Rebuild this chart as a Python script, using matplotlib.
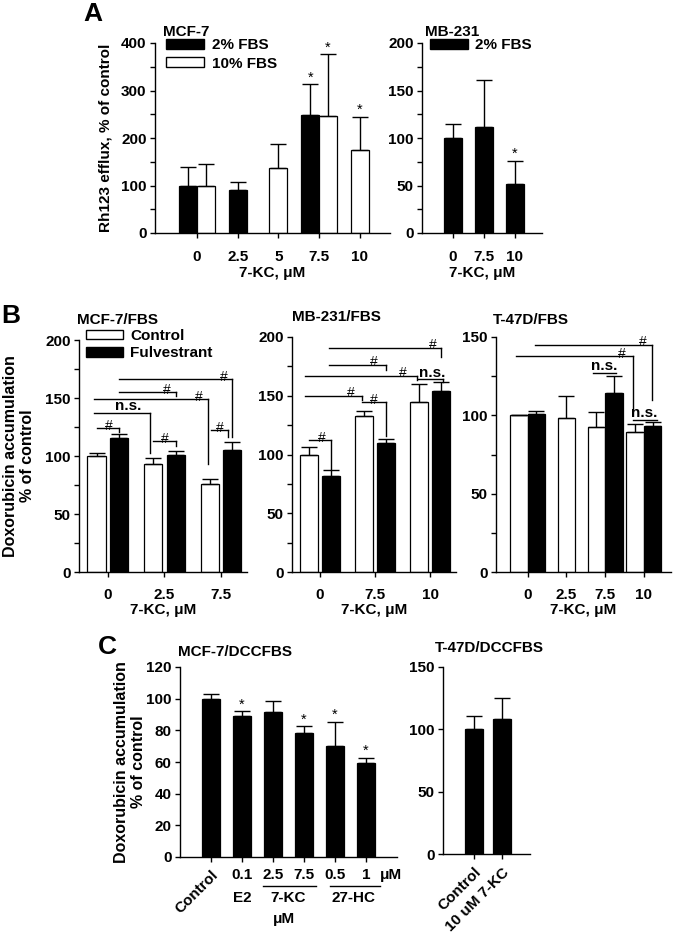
import numpy as np
import matplotlib
matplotlib.use('Agg')
import matplotlib.pyplot as plt
from matplotlib.patches import Patch
from matplotlib.ticker import MultipleLocator

plt.rcParams['font.family'] = ['Liberation Sans', 'DejaVu Sans']
plt.rcParams['font.weight'] = 'bold'
plt.rcParams['axes.labelweight'] = 'bold'

nan = np.nan

# ---------------- Panel A data ----------------
a_mcf_cats = ['0', '2.5', '5', '7.5', '10']
a_mcf_fbs2 = [100, 91, nan, 248, nan]
a_mcf_fbs2_err = [40, 17, nan, 65, nan]
a_mcf_fbs2_sig = [False, False, False, True, False]
a_mcf_fbs10 = [100, nan, 137, 246, 175]
a_mcf_fbs10_err = [45, nan, 50, 130, 70]
a_mcf_fbs10_sig = [False, False, False, True, True]

a_mb_cats = ['0', '7.5', '10']
a_mb_fbs2 = [100, 112, 52]
a_mb_fbs2_err = [15, 49, 24]
a_mb_fbs2_sig = [False, False, True]

# ---------------- Panel B data ----------------
b_mcf_cats = ['0', '2.5', '7.5']
b_mcf_ctrl = [100, 93, 75.5]
b_mcf_ctrl_err = [3, 5, 4.5]
b_mcf_fulv = [115.5, 101, 105]
b_mcf_fulv_err = [3.5, 3, 7]

b_mb_cats = ['0', '7.5', '10']
b_mb_ctrl = [100, 133, 144.5]
b_mb_ctrl_err = [6, 4, 15.5]
b_mb_fulv = [82, 109.5, 154]
b_mb_fulv_err = [5, 3.5, 7.5]

b_t47_cats = ['0', '2.5', '7.5', '10']
b_t47_ctrl = [100, 98.5, 92.3, 89.6]
b_t47_ctrl_err = [0.5, 13.8, 9.7, 5.1]
b_t47_fulv = [100.6, nan, 114.3, 93.2]
b_t47_fulv_err = [1.9, nan, 10.7, 2.3]

# significance brackets: (x_left, x_right, y, y_drop, label, x_text)
b_mcf_brackets = [
    (-0.2, 0.2, 124, 121, '#', 0.02),
    (-0.25, 0.75, 137, 103, 'n.s.', 0.36),
    (0.8, 1.2, 112.6, 109, '#', 1.0),
    (-0.25, 1.77, 149, 93, '#', 1.6),
    (0.2, 1.2, 155, 152, '#', 1.04),
    (0.2, 2.2, 166, 116, '#', 2.05),
    (1.83, 2.13, 122, 116, '#', 1.98),
]
b_mb_brackets = [
    (-0.2, 0.2, 112, 88, '#', 0.03),
    (-0.27, 0.77, 150, 146, '#', 0.55),
    (0.77, 1.2, 144.5, 116, '#', 0.98),
    (-0.27, 1.77, 167, 163, '#', 1.51),
    (0.16, 1.2, 176.5, 172, '#', 0.97),
    (0.16, 2.2, 190.6, 183, '#', 2.04),
    (1.78, 2.24, 164, 162, 'n.s.', 2.03),
]
b_t47_brackets = [
    (0.2, 3.2, 145, 109.6, '#', 2.97),
    (-0.3, 2.72, 137.7, 103, '#', 2.43),
    (1.68, 2.27, 127.2, None, 'n.s.', 1.97),
    (2.71, 3.33, 97.2, None, 'n.s.', 3.02),
]

# ---------------- Panel C data ----------------
c_mcf_cats = ['Control', '0.1', '2.5', '7.5', '0.5', '1']
c_mcf_vals = [100, 88.8, 91.4, 78.3, 70.3, 59.6]
c_mcf_err = [3, 3.2, 6.9, 4.2, 15, 2.9]
c_mcf_sig = [False, True, False, True, True, True]

c_t47_cats = ['Control', '10 uM 7-KC']
c_t47_vals = [100, 108.4]
c_t47_err = [11, 17]

# ---------------- helpers ----------------
W, H = 673, 934
FS = 11
FL = 11.5
fig = plt.figure(figsize=(W / 100, H / 100), dpi=100)


def fx(px):
    return px / W


def fy(py):
    return 1 - py / H


def add_ax(x0, x1, ytop, ybot):
    return fig.add_axes([x0 / W, 1 - ybot / H, (x1 - x0) / W, (ybot - ytop) / H])


def style(ax, xlim, ylim, major, minor, xpad):
    ax.set_xlim(*xlim)
    ax.set_ylim(*ylim)
    for s in ['top', 'right']:
        ax.spines[s].set_visible(False)
    for s in ['left', 'bottom']:
        ax.spines[s].set_linewidth(1.0)
    ax.yaxis.set_major_locator(MultipleLocator(major))
    if minor:
        ax.yaxis.set_minor_locator(MultipleLocator(minor))
    ax.tick_params(axis='y', which='both', direction='out', length=3.5, width=1,
                   labelsize=FS, pad=2.5)
    ax.tick_params(axis='x', direction='out', length=3.5, width=1, labelsize=FS, pad=xpad)


def bars(ax, x, vals, errs, width, face):
    x = np.asarray(x, float)
    v = np.asarray(vals, float)
    e = np.asarray(errs, float)
    m = ~np.isnan(v)
    ax.bar(x[m], v[m], width, color=face, edgecolor='black', linewidth=0.9, zorder=2)
    ax.errorbar(x[m], v[m], yerr=[np.zeros(m.sum()), e[m]], fmt='none', ecolor='black',
                elinewidth=1.0, capsize=5.5, capthick=1.0, zorder=3)


def stars(ax, x, vals, errs, sig):
    for xi, v, e, s in zip(x, vals, errs, sig):
        if s:
            ax.annotate('*', (xi, v + e), xytext=(0, 0), textcoords='offset points',
                        ha='center', va='bottom', fontsize=10.5, fontweight='normal')


def brackets(ax, specs):
    for x1, x2, y, yd, label, xt in specs:
        ax.plot([x1, x2], [y, y], color='black', lw=1.0, clip_on=False, zorder=4)
        if yd is not None:
            ax.plot([x2, x2], [y, yd], color='black', lw=1.0, clip_on=False, zorder=4)
        if label == '#':
            ax.annotate('#', (xt, y), xytext=(0, -1), textcoords='offset points',
                        ha='center', va='baseline', fontsize=10, fontweight='normal')
        else:
            ax.annotate(label, (xt, y), xytext=(0, 2), textcoords='offset points',
                        ha='center', va='baseline', fontsize=FS, fontweight='bold')


# ================= Panel A =================
ax = add_ax(155, 390, 43, 233)
xa = np.arange(len(a_mcf_cats))
w = 0.44
f2 = np.array(a_mcf_fbs2, float)
f10 = np.array(a_mcf_fbs10, float)
both = ~np.isnan(f2) & ~np.isnan(f10)
x2 = np.where(both, xa - w / 2, xa)
x10 = np.where(both, xa + w / 2, xa)
bars(ax, x2, a_mcf_fbs2, a_mcf_fbs2_err, w, 'black')
bars(ax, x10, a_mcf_fbs10, a_mcf_fbs10_err, w, 'white')
stars(ax, x2, a_mcf_fbs2, a_mcf_fbs2_err, a_mcf_fbs2_sig)
stars(ax, x10, a_mcf_fbs10, a_mcf_fbs10_err, a_mcf_fbs10_sig)
style(ax, (-1.03, 4.74), (0, 400), 100, 50, 9)
ax.set_xticks(xa)
ax.set_xticklabels(a_mcf_cats)
ax.set_xlabel('7-KC, μM', fontsize=FS, labelpad=1)
ax.legend([Patch(facecolor='black', edgecolor='black'), Patch(facecolor='white', edgecolor='black')],
          ['2% FBS', '10% FBS'], loc='upper left', bbox_to_anchor=(fx(166), fy(38)),
          bbox_transform=fig.transFigure, frameon=False, borderpad=0, borderaxespad=0,
          handlelength=2.5, handleheight=0.65, handletextpad=0.5, labelspacing=0.3, fontsize=FS)
fig.text(fx(163), fy(32), 'MCF-7', ha='left', va='center', fontsize=FS)
fig.text(fx(106), fy(138), 'Rh123 efflux, % of control', rotation=90, ha='center', va='center', fontsize=FS)
fig.text(fx(93), fy(14), 'A', ha='center', va='center', fontsize=19)

ax = add_ax(422, 542, 43, 233)
xb = np.arange(len(a_mb_cats))
bars(ax, xb, a_mb_fbs2, a_mb_fbs2_err, 0.58, 'black')
stars(ax, xb, a_mb_fbs2, a_mb_fbs2_err, a_mb_fbs2_sig)
style(ax, (-0.98, 2.87), (0, 200), 50, 25, 9)
ax.set_xticks(xb)
ax.set_xticklabels(a_mb_cats)
ax.set_xlabel('7-KC, μM', fontsize=FS, labelpad=1)
ax.legend([Patch(facecolor='black', edgecolor='black')], ['2% FBS'], loc='upper left',
          bbox_to_anchor=(fx(430), fy(38)), bbox_transform=fig.transFigure, frameon=False,
          borderpad=0, borderaxespad=0, handlelength=2.5, handleheight=0.65, handletextpad=0.45,
          fontsize=FS)
fig.text(fx(425), fy(32), 'MB-231', ha='left', va='center', fontsize=FS)

# ================= Panel B =================
def paired(ax, cats, ctrl, ctrl_err, fulv, fulv_err, w, off):
    x = np.arange(len(cats))
    c = np.array(ctrl, float)
    f = np.array(fulv, float)
    both = ~np.isnan(c) & ~np.isnan(f)
    xc = np.where(both, x - off, x)
    xf = np.where(both, x + off, x)
    bars(ax, xc, ctrl, ctrl_err, w, 'white')
    bars(ax, xf, fulv, fulv_err, w, 'black')
    ax.set_xticks(x)
    ax.set_xticklabels(cats)
    ax.set_xlabel('7-KC, μM', fontsize=FS, labelpad=1)


ax = add_ax(79, 247, 340, 572)
paired(ax, b_mcf_cats, b_mcf_ctrl, b_mcf_ctrl_err, b_mcf_fulv, b_mcf_fulv_err, 0.32, 0.2)
style(ax, (-0.51, 2.46), (0, 200), 50, 25, 8)
brackets(ax, b_mcf_brackets)
ax.legend([Patch(facecolor='white', edgecolor='black'), Patch(facecolor='black', edgecolor='black')],
          ['Control', 'Fulvestrant'], loc='upper left', bbox_to_anchor=(fx(86), fy(329)),
          bbox_transform=fig.transFigure, frameon=False, borderpad=0, borderaxespad=0,
          handlelength=2.4, handleheight=0.6, handletextpad=0.5, labelspacing=0.2, fontsize=FS)
fig.text(fx(77), fy(320), 'MCF-7/FBS', ha='left', va='center', fontsize=FS)
fig.text(fx(19), fy(456), 'Doxorubicin accumulation\n% of control', rotation=90, ha='center',
         va='center', multialignment='center', fontsize=FL, linespacing=1.1)
fig.text(fx(11), fy(316), 'B', ha='center', va='center', fontsize=19)

ax = add_ax(292, 456, 337, 572)
paired(ax, b_mb_cats, b_mb_ctrl, b_mb_ctrl_err, b_mb_fulv, b_mb_fulv_err, 0.33, 0.2)
style(ax, (-0.51, 2.47), (0, 200), 50, 25, 8)
brackets(ax, b_mb_brackets)
fig.text(fx(292), fy(317), 'MB-231/FBS', ha='left', va='center', fontsize=FS)

ax = add_ax(496, 671, 337, 572)
paired(ax, b_t47_cats, b_t47_ctrl, b_t47_ctrl_err, b_t47_fulv, b_t47_fulv_err, 0.45, 0.225)
style(ax, (-0.82, 3.70), (0, 150), 50, 25, 8)
brackets(ax, b_t47_brackets)
fig.text(fx(493), fy(320), 'T-47D/FBS', ha='left', va='center', fontsize=FS)

# ================= Panel C =================
ax = add_ax(180, 397, 667, 857)
xc = np.arange(len(c_mcf_cats))
bars(ax, xc, c_mcf_vals, c_mcf_err, 0.58, 'black')
stars(ax, xc, c_mcf_vals, c_mcf_err, c_mcf_sig)
style(ax, (-1.0, 6.0), (0, 120), 20, None, 4.5)
ax.set_xticks(xc)
ax.set_xticklabels(c_mcf_cats)
lbl0 = ax.get_xticklabels()[0]
lbl0.set_rotation(45)
lbl0.set_ha('right')
lbl0.set_va('top')
lbl0.set_rotation_mode('anchor')
tr = ax.get_xaxis_transform()
ax.text(5.8, -0.095, 'μM', transform=tr, ha='center', va='center', fontsize=FS)
ax.plot([1.68, 3.39], [-0.15, -0.15], transform=tr, color='black', lw=1.0, clip_on=False)
ax.plot([3.84, 5.45], [-0.15, -0.15], transform=tr, color='black', lw=1.0, clip_on=False)
ax.text(1, -0.215, 'E2', transform=tr, ha='center', va='center', fontsize=FS)
ax.text(2.5, -0.215, '7-KC', transform=tr, ha='center', va='center', fontsize=FS)
ax.text(4.6, -0.215, '27-HC', transform=tr, ha='center', va='center', fontsize=FS)
ax.text(2.35, -0.325, 'μM', transform=tr, ha='center', va='center', fontsize=FS)
fig.text(fx(178), fy(652), 'MCF-7/DCCFBS', ha='left', va='center', fontsize=FS)
fig.text(fx(130), fy(762), 'Doxorubicin accumulation\n% of control', rotation=90, ha='center',
         va='center', multialignment='center', fontsize=FL, linespacing=1.1)
fig.text(fx(107), fy(647), 'C', ha='center', va='center', fontsize=19)

ax = add_ax(443, 530, 667, 854)
xt = np.arange(len(c_t47_cats))
bars(ax, xt, c_t47_vals, c_t47_err, 0.64, 'black')
style(ax, (-1.13, 2.02), (0, 150), 50, None, 4.5)
ax.set_xticks(xt)
ax.set_xticklabels(c_t47_cats, rotation=45, ha='right', va='top', rotation_mode='anchor')
fig.text(fx(435), fy(648), 'T-47D/DCCFBS', ha='left', va='center', fontsize=FS)

fig.savefig('out.png', dpi=100)
